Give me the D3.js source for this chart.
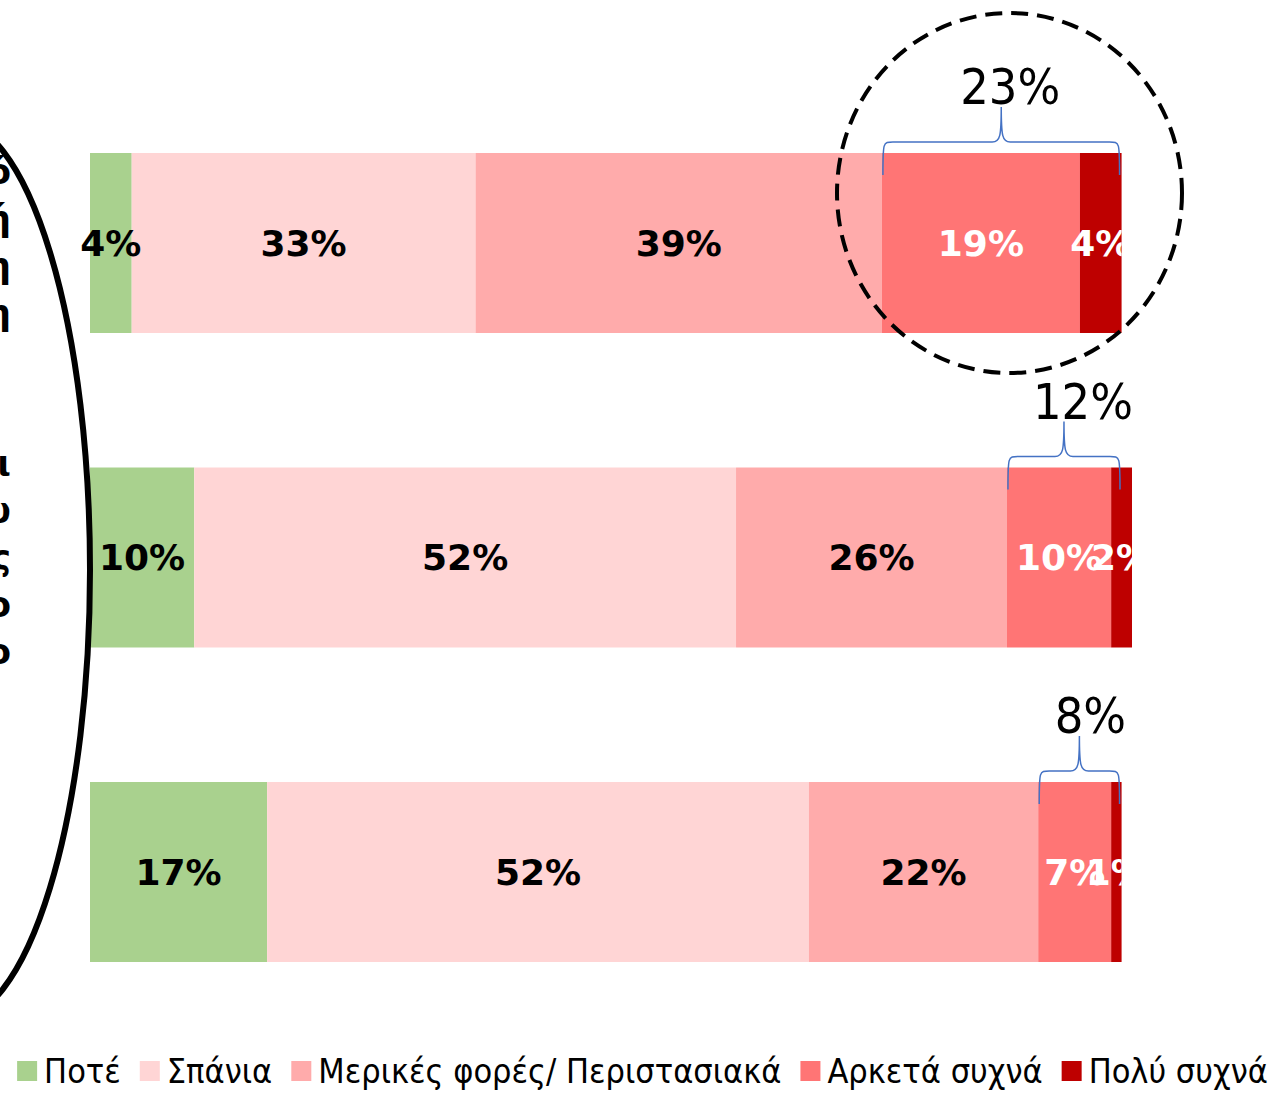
<!DOCTYPE html>
<html>
<head>
<meta charset="utf-8">
<script src="https://cdn.jsdelivr.net/npm/d3@7"></script>
<style>
  html, body { margin: 0; padding: 0; background: #fff; }
  svg { display: block; }
</style>
</head>
<body>
<svg id="chart" width="1281" height="1095"></svg>
<script>
// categories (their labels sit mostly outside the frame on the left)
const categories = ["q1", "q2", "q3"];
const categoryLines = [
  ["Νιώθω ότι όλο αυτό", "επηρεάζει τη ζωή", "μου και προκαλεί πίεση", "και συναισθηματική ένταση"],
  ["Νιώθω μοναξιά ακόμη και", "όταν είμαι κοντά σε φίλους μου", "και ανθρώπους", "που αγαπώ στο σπίτι ή στο", "σχολείο"],
  ["Νιώθω λύπη", "χωρίς λόγο"]
];

const seriesNames = ["Ποτέ", "Σπάνια", "Μερικές φορές/ Περιστασιακά", "Αρκετά συχνά", "Πολύ συχνά"];
const never     = [4, 10, 17];
const rarely    = [33, 52, 52];
const sometimes = [39, 26, 22];
const often     = [19, 10, 7];
const veryOften = [4, 2, 1];
const braceTotals = [23, 12, 8];

const colors = ["#a9d18e", "#ffd5d5", "#ffabab", "#ff7575", "#be0000"];
const labelColors = ["#000", "#000", "#000", "#fff", "#fff"];

const svg = d3.select( "#chart" );

const rows = categories.map( ( c, i ) => ( {
    cat: c,
    s0: never[ i ], s1: rarely[ i ], s2: sometimes[ i ], s3: often[ i ], s4: veryOften[ i ]
} ) );
const keys = [ "s0", "s1", "s2", "s3", "s4" ];
const stacked = d3.stack().keys( keys )( rows );

const x = d3.scaleLinear().domain( [ 0, 100 ] ).range( [ 90, 1132 ] );
const y = d3.scaleBand().domain( categories ).range( [ 153, 962 ] )
    .paddingInner( 0.4277 ).paddingOuter( 0 );

// bars
const gBars = svg.append( "g" );
gBars.selectAll( "g" )
    .data( stacked )
    .enter()
    .append( "g" )
    .attr( "fill", ( d, i ) => colors[ i ] )
    .selectAll( "rect" )
    .data( d => d )
    .enter()
    .append( "rect" )
    .attr( "x", d => x( d[ 0 ] ) )
    .attr( "width", d => x( d[ 1 ] ) - x( d[ 0 ] ) )
    .attr( "y", d => y( d.data.cat ) )
    .attr( "height", y.bandwidth() );

// clip value labels at each bar's right end
const defs = svg.append( "defs" );
categories.forEach( ( c, i ) => {
    const end = stacked[ stacked.length - 1 ][ i ][ 1 ];
    defs.append( "clipPath" ).attr( "id", "clip" + i )
        .append( "rect" )
        .attr( "x", 0 ).attr( "y", y( c ) )
        .attr( "width", x( end ) ).attr( "height", y.bandwidth() );
} );

categories.forEach( ( c, i ) => {
    const g = svg.append( "g" ).attr( "clip-path", `url(#clip${i})` );
    stacked.forEach( ( s, k ) => {
        const d = s[ i ];
        g.append( "text" )
            .attr( "x", ( x( d[ 0 ] ) + x( d[ 1 ] ) ) / 2 )
            .attr( "y", y( c ) + y.bandwidth() / 2 )
            .attr( "dy", "0.36em" )
            .style( "text-anchor", "middle" )
            .style( "font-family", "'DejaVu Sans', Verdana, sans-serif" )
            .style( "font-weight", "bold" )
            .style( "font-size", "36px" )
            .attr( "fill", labelColors[ k ] )
            .text( ( d[ 1 ] - d[ 0 ] ) + "%" );
    } );
} );

// category labels, mostly cut by the left edge
categories.forEach( ( c, i ) => {
    const lines = categoryLines[ i ];
    const cy = y( c ) + y.bandwidth() / 2;
    const endX = i < 2 ? 11 : -40;
    svg.append( "text" )
        .style( "font-family", "'DejaVu Sans', Verdana, sans-serif" )
        .style( "font-weight", "bold" )
        .style( "font-size", "35px" )
        .style( "text-anchor", "end" )
        .selectAll( "tspan" )
        .data( lines )
        .enter()
        .append( "tspan" )
        .attr( "x", endX )
        .attr( "y", ( d, j ) => cy + 12 + ( j - ( lines.length - 1 ) / 2 ) * 47 )
        .text( d => d );
} );

// braces with the sum of the last two groups
const braceColor = "#4472c4";
categories.forEach( ( c, i ) => {
    const x0 = x( stacked[ 3 ][ i ][ 0 ] ) + 1;
    const x1 = Math.min( x( stacked[ 4 ][ i ][ 1 ] ), 1122 ) - 2;
    const top = y( c );
    const hy = top - 11, endY = top + 22, tipY = top - 46;
    const xm = ( x0 + x1 ) / 2;
    const p = d3.path();
    p.moveTo( x0, endY );
    p.bezierCurveTo( x0, hy, x0, hy, x0 + 10, hy );
    p.lineTo( xm - 9, hy );
    p.bezierCurveTo( xm - 1, hy, xm, hy - 6, xm, tipY );
    p.bezierCurveTo( xm, hy - 6, xm + 1, hy, xm + 9, hy );
    p.lineTo( x1 - 10, hy );
    p.bezierCurveTo( x1, hy, x1, hy, x1, endY );
    svg.append( "path" )
        .attr( "d", p.toString() )
        .attr( "fill", "none" )
        .attr( "stroke", braceColor )
        .attr( "stroke-width", 1.5 );
    svg.append( "text" )
        .attr( "x", xm + [ 9, 19, 11 ][ i ] )
        .attr( "y", tipY - 3 )
        .style( "text-anchor", "middle" )
        .style( "font-family", "'DejaVu Sans Condensed', Tahoma, sans-serif" )
        .style( "font-size", "50px" )
        .attr( "fill", "#000" )
        .text( braceTotals[ i ] + "%" );
} );

// dashed highlight around the first bar's end
svg.append( "ellipse" )
    .attr( "cx", 1009.5 ).attr( "cy", 193 )
    .attr( "rx", 172.5 ).attr( "ry", 180 )
    .attr( "fill", "none" )
    .attr( "stroke", "#000" )
    .attr( "stroke-width", 4 )
    .attr( "stroke-dasharray", "17 9" );

// big outline around the category labels
svg.append( "ellipse" )
    .attr( "cx", -47 ).attr( "cy", 570 )
    .attr( "rx", 137 ).attr( "ry", 450 )
    .attr( "fill", "none" )
    .attr( "stroke", "#000" )
    .attr( "stroke-width", 6 );

// legend
const legend = svg.append( "g" );
let lx = 0;
seriesNames.forEach( ( name, k ) => {
    const item = legend.append( "g" ).attr( "transform", `translate(${lx},0)` );
    item.append( "rect" )
        .attr( "x", 0 ).attr( "y", -20 )
        .attr( "width", 20 ).attr( "height", 20 )
        .attr( "fill", colors[ k ] );
    const t = item.append( "text" )
        .attr( "x", 27 ).attr( "y", 2 )
        .style( "font-family", "'DejaVu Sans Condensed', Tahoma, sans-serif" )
        .style( "font-size", "34px" )
        .attr( "fill", "#000" )
        .text( name );
    lx += 27 + t.node().getComputedTextLength() + 19;
} );
const legendW = lx - 19;
legend.attr( "transform", `translate(${( 15 + 1270 ) / 2 - legendW / 2},1081)` );
</script>
</body>
</html>
